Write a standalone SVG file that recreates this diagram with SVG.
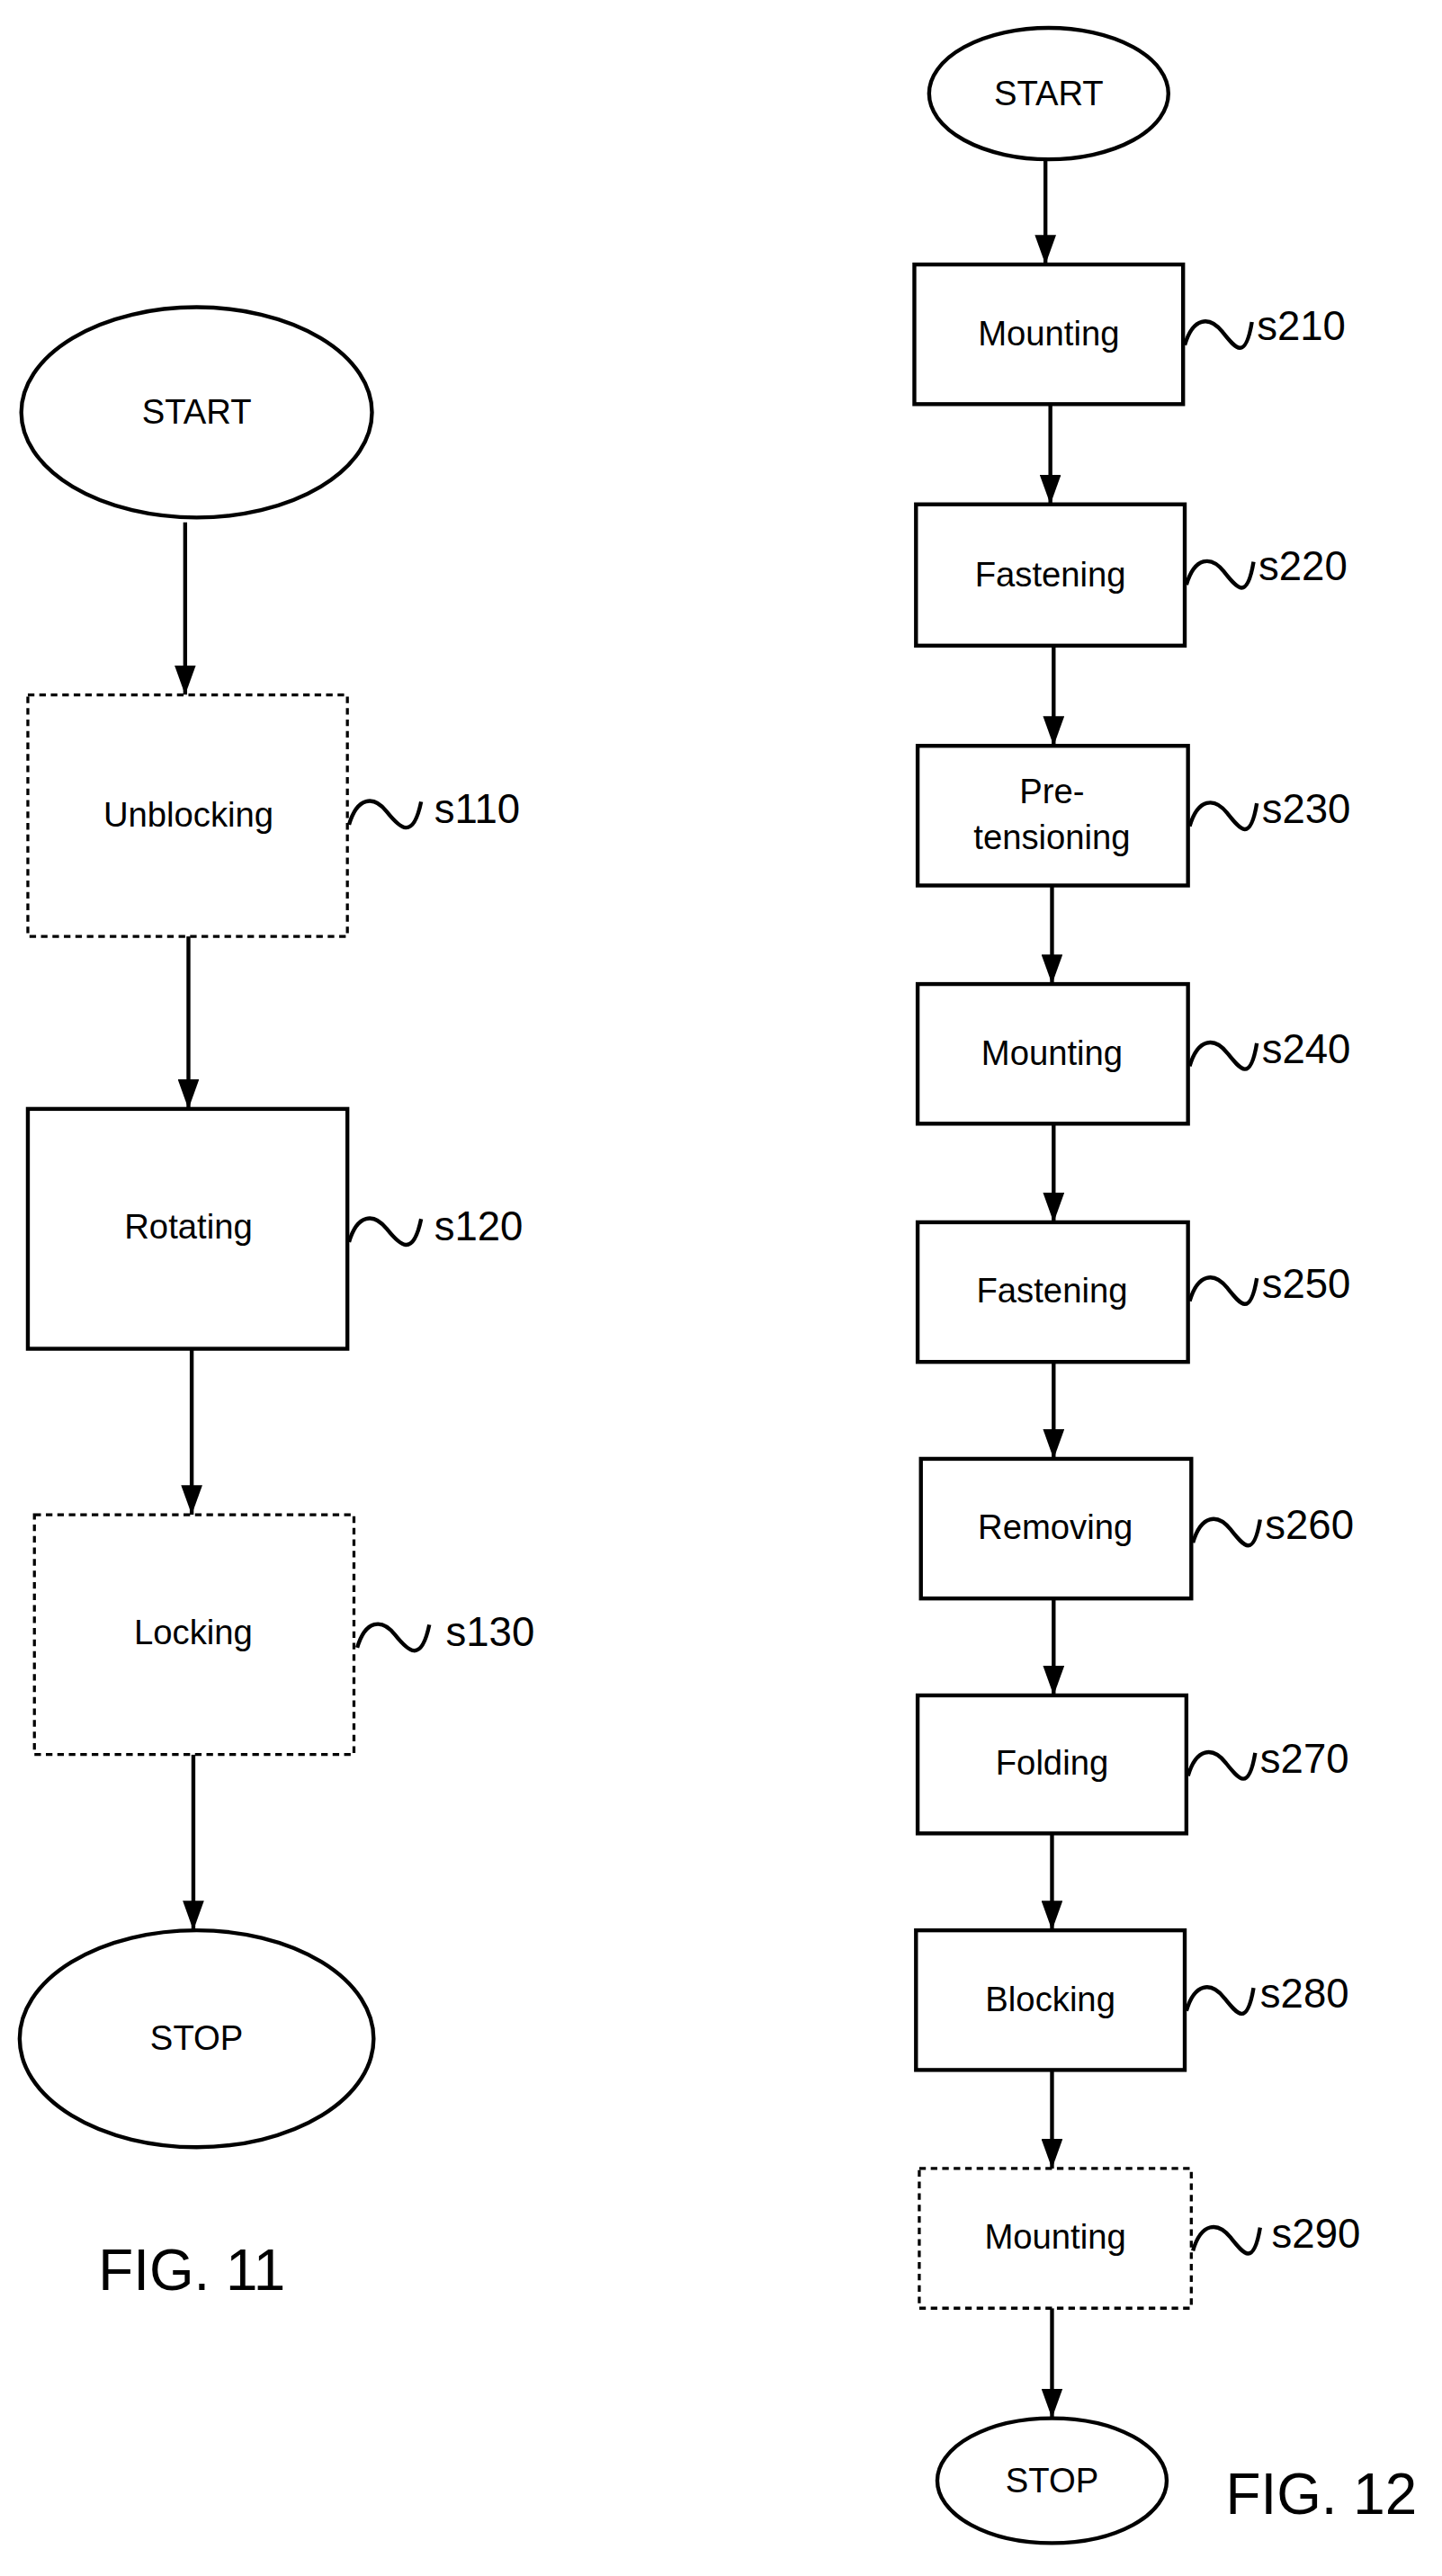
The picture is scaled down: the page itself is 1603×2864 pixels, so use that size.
<svg xmlns="http://www.w3.org/2000/svg" width="1603" height="2864" viewBox="0 0 1603 2864">
<style>
.n{fill:#fff;stroke:#000;stroke-width:2.4}
.d{fill:#fff;stroke:#000;stroke-width:1.8;stroke-dasharray:4 3}
.t{font-family:"Liberation Sans",Arial,sans-serif;font-size:21px;text-anchor:middle;fill:#000}
.l{font-family:"Liberation Sans",Arial,sans-serif;font-size:25px;fill:#000}
.f{font-family:"Liberation Sans",Arial,sans-serif;font-size:35px;fill:#000}
.c{fill:none;stroke:#000;stroke-width:2.4}
.s{fill:none;stroke:#000;stroke-width:2.4}
</style>
<defs>
<marker id="ar" markerUnits="userSpaceOnUse" markerWidth="18" markerHeight="13" refX="18" refY="6.5" orient="auto" viewBox="0 0 18 13">
<path d="M0,0 L18,6.5 L0,13 Z" fill="#000"/>
</marker>
</defs>
<rect width="1603" height="2864" fill="#fff"/>
<g transform="scale(1.8216,1.8265)">
<g id="connectors">
<line class="c" x1="113" y1="318" x2="113" y2="423" marker-end="url(#ar)"/>
<line class="c" x1="115" y1="570" x2="115" y2="675" marker-end="url(#ar)"/>
<line class="c" x1="117" y1="821" x2="117" y2="922" marker-end="url(#ar)"/>
<line class="c" x1="118" y1="1068" x2="118" y2="1175" marker-end="url(#ar)"/>
<line class="c" x1="638" y1="97" x2="638" y2="161" marker-end="url(#ar)"/>
<line class="c" x1="641" y1="246" x2="641" y2="307" marker-end="url(#ar)"/>
<line class="c" x1="643" y1="393" x2="643" y2="454" marker-end="url(#ar)"/>
<line class="c" x1="642" y1="539" x2="642" y2="599" marker-end="url(#ar)"/>
<line class="c" x1="643" y1="684" x2="643" y2="744" marker-end="url(#ar)"/>
<line class="c" x1="643" y1="829" x2="643" y2="888" marker-end="url(#ar)"/>
<line class="c" x1="643" y1="973" x2="643" y2="1032" marker-end="url(#ar)"/>
<line class="c" x1="642" y1="1116" x2="642" y2="1175" marker-end="url(#ar)"/>
<line class="c" x1="642" y1="1260" x2="642" y2="1320" marker-end="url(#ar)"/>
<line class="c" x1="642" y1="1405" x2="642" y2="1472" marker-end="url(#ar)"/>
</g>
<g id="start1"><ellipse class="n" cx="120" cy="251" rx="107" ry="64"/><text class="t" x="120" y="258">START</text></g>
<g id="s110"><rect class="d" x="17" y="423" width="195" height="147"/><text class="t" x="115" y="503">Unblocking</text><path class="s" d="M213,502 C218,485 228,484 236,494 S252,512 257,488"/><text class="l" x="265" y="501">s110</text></g>
<g id="s120"><rect class="n" x="17" y="675" width="195" height="146"/><text class="t" x="115" y="754">Rotating</text><path class="s" d="M213,756 C218,739 228,738 236,748 S252,766 257,742"/><text class="l" x="265" y="755">s120</text></g>
<g id="s130"><rect class="d" x="21" y="922" width="195" height="146"/><text class="t" x="118" y="1001">Locking</text><path class="s" d="M218,1003 C223,986 233,985 241,995 S257,1013 262,989"/><text class="l" x="272" y="1002">s130</text></g>
<g id="stop1"><ellipse class="n" cx="120" cy="1241" rx="108" ry="66"/><text class="t" x="120" y="1248">STOP</text></g>
<text class="f" x="60" y="1394">FIG. 11</text>
<g id="start2"><ellipse class="n" cx="640" cy="57" rx="73" ry="40"/><text class="t" x="640" y="64">START</text></g>
<g id="s210"><rect class="n" x="558" y="161" width="164" height="85"/><text class="t" x="640" y="210">Mounting</text><path class="s" d="M723,210 C728,193 738,192 746,202 S760,220 764,196"/><text class="l" x="767" y="207">s210</text></g>
<g id="s220"><rect class="n" x="559" y="307" width="164" height="86"/><text class="t" x="641" y="357">Fastening</text><path class="s" d="M724,356 C729,339 739,338 747,348 S761,366 765,342"/><text class="l" x="768" y="353">s220</text></g>
<g id="s230"><rect class="n" x="560" y="454" width="165" height="85"/><text class="t" x="642" y="489">Pre-</text><text class="t" x="642" y="517">tensioning</text><path class="s" d="M726,503 C731,486 741,485 749,495 S763,513 767,489"/><text class="l" x="770" y="501">s230</text></g>
<g id="s240"><rect class="n" x="560" y="599" width="165" height="85"/><text class="t" x="642" y="648">Mounting</text><path class="s" d="M726,649 C731,632 741,631 749,641 S763,659 767,635"/><text class="l" x="770" y="647">s240</text></g>
<g id="s250"><rect class="n" x="560" y="744" width="165" height="85"/><text class="t" x="642" y="793">Fastening</text><path class="s" d="M726,792 C731,775 741,774 749,784 S763,802 767,778"/><text class="l" x="770" y="790">s250</text></g>
<g id="s260"><rect class="n" x="562" y="888" width="165" height="85"/><text class="t" x="644" y="937">Removing</text><path class="s" d="M728,939 C733,922 743,921 751,931 S765,949 769,925"/><text class="l" x="772" y="937">s260</text></g>
<g id="s270"><rect class="n" x="560" y="1032" width="164" height="84"/><text class="t" x="642" y="1080">Folding</text><path class="s" d="M725,1081 C730,1064 740,1063 748,1073 S762,1091 766,1067"/><text class="l" x="769" y="1079">s270</text></g>
<g id="s280"><rect class="n" x="559" y="1175" width="164" height="85"/><text class="t" x="641" y="1224">Blocking</text><path class="s" d="M724,1224 C729,1207 739,1206 747,1216 S761,1234 765,1210"/><text class="l" x="769" y="1222">s280</text></g>
<g id="s290"><rect class="d" x="561" y="1320" width="166" height="85"/><text class="t" x="644" y="1369">Mounting</text><path class="s" d="M728,1370 C733,1353 743,1352 751,1362 S765,1380 769,1356"/><text class="l" x="776" y="1368">s290</text></g>
<g id="stop2"><ellipse class="n" cx="642" cy="1510" rx="70" ry="38"/><text class="t" x="642" y="1517">STOP</text></g>
<text class="f" x="748" y="1530">FIG. 12</text>
</g>
</svg>
